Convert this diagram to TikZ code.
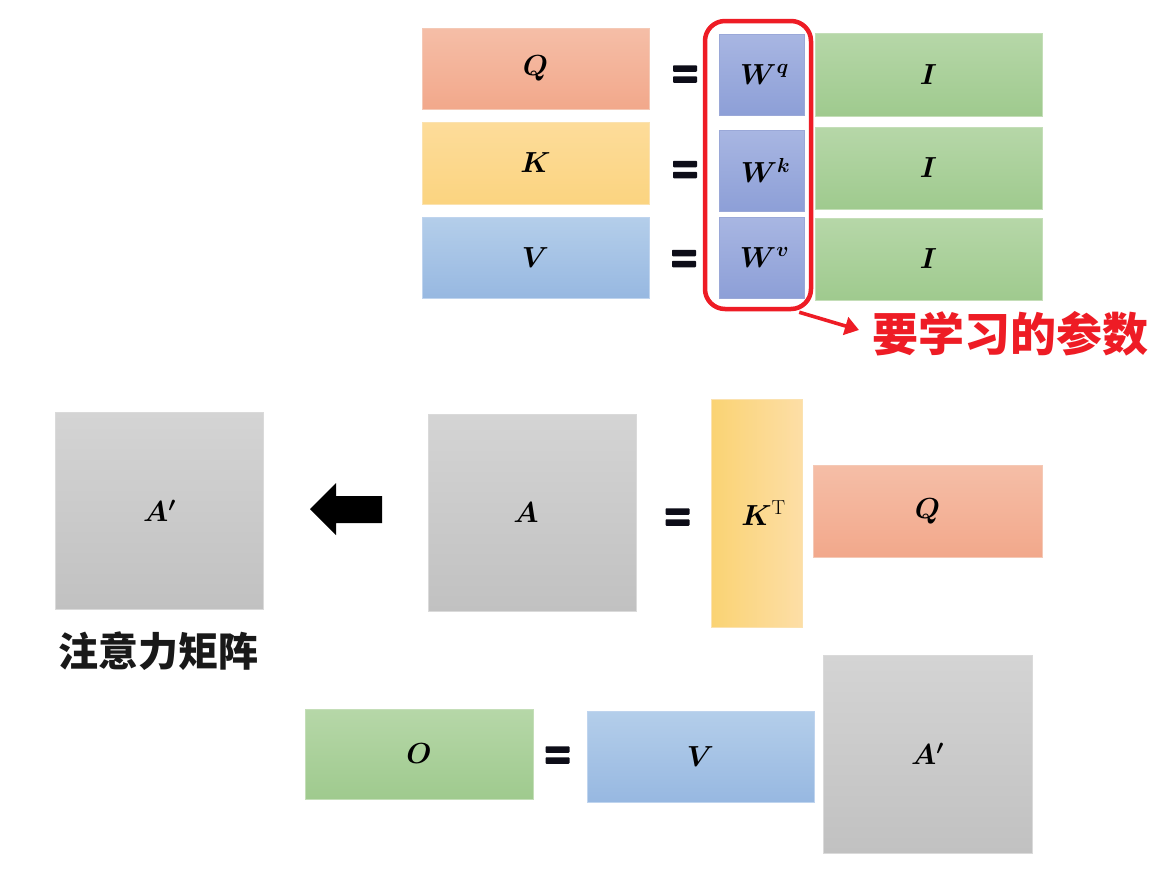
\RequirePackage{fix-cm}
\documentclass[tikz,border=0pt]{standalone}
\usepackage{amsmath,bm}
\usepackage{fontspec}
\newfontfamily\cjkfont{Noto Sans CJK SC}
\usetikzlibrary{arrows.meta}
\definecolor{qt}{HTML}{F5BEA7}\definecolor{qb}{HTML}{F2A88B}\definecolor{qd}{HTML}{F4C9B6}
\definecolor{kt}{HTML}{FDDC9A}\definecolor{kb}{HTML}{FBD480}\definecolor{kd}{HTML}{FBE2B0}
\definecolor{vt}{HTML}{B4CEEA}\definecolor{vb}{HTML}{97B8E1}\definecolor{vd}{HTML}{BFD4EE}
\definecolor{wt}{HTML}{A8B6E2}\definecolor{wb}{HTML}{8D9FD7}\definecolor{wd}{HTML}{9AA8D8}
\definecolor{gt}{HTML}{B6D7A8}\definecolor{gb}{HTML}{9FCA8E}\definecolor{gd}{HTML}{C4DEB8}
\definecolor{at}{HTML}{D4D4D4}\definecolor{ab}{HTML}{C1C1C1}\definecolor{ad}{HTML}{DADADA}
\definecolor{ktl}{HTML}{FAD373}\definecolor{ktr}{HTML}{FDDEA6}
\definecolor{redc}{HTML}{EE1C25}
\definecolor{eqc}{HTML}{0D0D18}
\newcommand\labfont{\fontsize{29}{33}\selectfont}
\tikzset{
  mat/.style={line width=0.6pt, inner sep=0pt, font=\labfont},
  qcol/.style={mat, draw=qd, top color=qt, bottom color=qb},
  kcol/.style={mat, draw=kd, top color=kt, bottom color=kb},
  vcol/.style={mat, draw=vd, top color=vt, bottom color=vb},
  wcol/.style={mat, draw=wd, top color=wt, bottom color=wb},
  gcol/.style={mat, draw=gd, top color=gt, bottom color=gb},
  acol/.style={mat, draw=ad, top color=at, bottom color=ab},
  ktcol/.style={mat, draw=kd, left color=ktl, right color=ktr},
  eqsign/.style={minimum width=24pt, minimum height=17.5pt, inner sep=0pt,
    path picture={
      \fill[eqc, rounded corners=0.8pt] (path picture bounding box.north west) rectangle ([yshift=-6.5pt]path picture bounding box.north east);
      \fill[eqc, rounded corners=0.8pt] (path picture bounding box.south west) rectangle ([yshift=6.5pt]path picture bounding box.south east);
    }},
  learnbox/.style={draw=redc, line width=4.5pt, rounded corners=20pt, inner sep=0pt},
  redarrow/.style={draw=redc, line width=3.6pt, -{Triangle[length=14pt,width=18pt]}},
}
\begin{document}
\begin{tikzpicture}[x=1pt,y=-1pt]
\fill[white] (0,0) rectangle (1165,868);
\useasboundingbox (0,0) rectangle (1165,868);
% top block
\node[qcol, minimum width=227pt, minimum height=81pt] (q1) at (535.5,68.5) {$\bm{Q}$};
\node[kcol, minimum width=227pt, minimum height=82pt] (k1) at (535.5,163) {$\bm{K}$};
\node[vcol, minimum width=227pt, minimum height=81pt] (v1) at (535.5,257.5) {$\bm{V}$};
\node[eqsign] (e1) at (685,74) {};
\node[eqsign] (e2) at (685,169.5) {};
\node[eqsign] (e3) at (684,258.5) {};
\node[wcol, minimum width=85pt, minimum height=81pt] (wq) at (761.5,74.5) {\hspace{6pt}$\bm{W^{q}}$};
\node[wcol, minimum width=85pt, minimum height=81pt] (wk) at (761.5,170.5) {\hspace{8pt}$\bm{W^{k}}$};
\node[wcol, minimum width=85pt, minimum height=81pt] (wv) at (761.5,257.5) {\hspace{6pt}$\bm{W^{v}}$};
\node[gcol, minimum width=227pt, minimum height=83pt] (i1) at (928.5,74.5) {$\bm{I}$};
\node[gcol, minimum width=227pt, minimum height=82pt] (i2) at (928.5,168) {$\bm{I}$};
\node[gcol, minimum width=227pt, minimum height=82pt] (i3) at (928.5,259) {$\bm{I}$};
\node[learnbox, minimum width=106pt, minimum height=288pt] (learn) at (758,165) {};
\node[text=redc, font=\cjkfont\bfseries\fontsize{46}{50}\selectfont, inner sep=0pt] (learntxt) at (1010,334) {要学习的参数};
\coordinate (tip) at (859,330);
\draw[redarrow] ([xshift=-14pt,yshift=-1pt]learn.south east) -- (tip);
% middle block
\node[acol, minimum width=208pt, minimum height=197pt] (ap1) at (159.5,511) {$\bm{A'}$};
\node[font=\cjkfont\bfseries\fontsize{40}{44}\selectfont, text=black!90, inner sep=0pt] (attn) at (158,651) {注意力矩阵};
\node[acol, minimum width=208pt, minimum height=197pt] (a) at (532,512.5) {\hspace{-12pt}$\bm{A}$};
\fill[black] (310,509) -- (336,483) -- (336,496) -- (382,496) -- (382,523) -- (336,523) -- (336,535) -- cycle;
\node[eqsign] (e4) at (677.5,517) {};
\node[ktcol, minimum width=91pt, minimum height=228pt] (kt) at (756.5,513) {\hspace{14pt}$\bm{K}^{\mathrm{T}}$};
\node[qcol, minimum width=229pt, minimum height=92pt] (q2) at (927.5,511) {$\bm{Q}$};
% bottom block
\node[gcol, minimum width=228pt, minimum height=90pt] (o) at (419,754) {$\bm{O}$};
\node[eqsign] (e5) at (557.5,755) {};
\node[vcol, minimum width=227pt, minimum height=91pt] (v2) at (700.5,756.5) {$\bm{V}$};
\node[acol, minimum width=209pt, minimum height=198pt] (ap2) at (927.5,754) {$\bm{A'}$};
\end{tikzpicture}
\end{document}
